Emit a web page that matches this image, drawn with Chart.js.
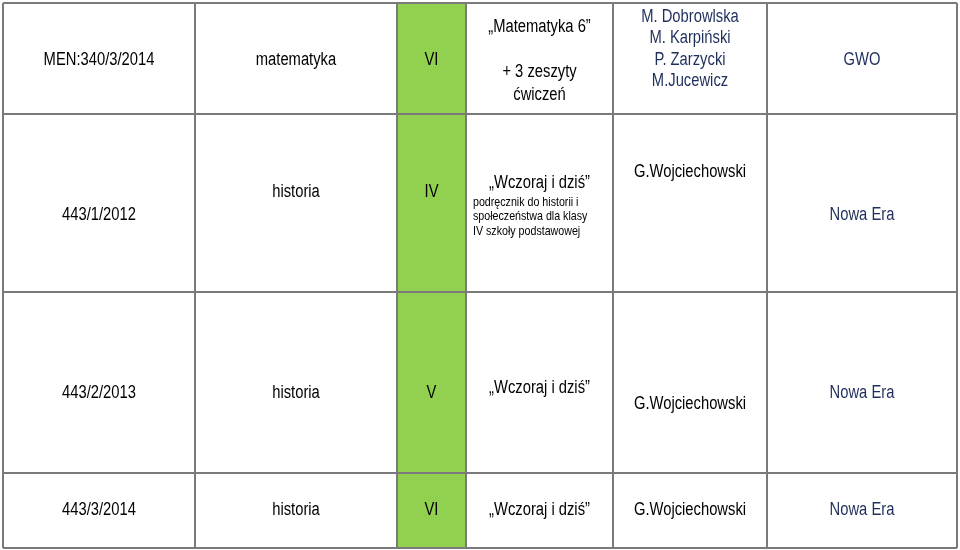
<!DOCTYPE html>
<html lang="en">
<head>
<meta charset="UTF-8">
<title>Podręczniki</title>
<script src="https://cdn.jsdelivr.net/npm/chart.js@4.4.2/dist/chart.umd.min.js"></script>
<style>
  body { margin: 0; background: #fff; }
  #wrap { width: 960px; height: 550px; }
</style>
</head>
<body>
<div id="wrap"><canvas id="tbl"></canvas></div>
<script>
// table structure (in scale units)
const colEdges = [3, 195, 397, 466, 613, 767, 957];
const rowEdges = [3, 114, 292, 473, 548];
const greenCol = 2;

// cell texts: [row, col, text, y, size, align, colour]
const NAVY = '#1f2f5c';
const cells = [
  [0, 0, 'MEN:340/3/2014', 60, 18, 'c', '#000'],
  [0, 1, 'matematyka', 60, 18, 'c', '#000'],
  [0, 2, 'VI', 60, 18, 'c', '#000'],
  [0, 3, '„Matematyka 6”', 27, 18, 'c', '#000'],
  [0, 3, '+ 3 zeszyty', 72, 18, 'c', '#000'],
  [0, 3, 'ćwiczeń', 95, 18, 'c', '#000'],
  [0, 4, 'M. Dobrowlska', 17, 18, 'c', NAVY],
  [0, 4, 'M. Karpiński', 38, 18, 'c', NAVY],
  [0, 4, 'P. Zarzycki', 60, 18, 'c', NAVY],
  [0, 4, 'M.Jucewicz', 81, 18, 'c', NAVY],
  [0, 5, 'GWO', 60, 18, 'c', NAVY],
  [1, 0, '443/1/2012', 215, 18, 'c', '#000'],
  [1, 1, 'historia', 192, 18, 'c', '#000'],
  [1, 2, 'IV', 192, 18, 'c', '#000'],
  [1, 3, '„Wczoraj i dziś”', 183, 18, 'c', '#000'],
  [1, 3, 'podręcznik do historii i', 202, 13, 'l', '#000'],
  [1, 3, 'społeczeństwa dla klasy', 216, 13, 'l', '#000'],
  [1, 3, 'IV szkoły podstawowej', 231, 13, 'l', '#000'],
  [1, 4, 'G.Wojciechowski', 172, 18, 'c', '#000'],
  [1, 5, 'Nowa Era', 215, 18, 'c', NAVY],
  [2, 0, '443/2/2013', 393, 18, 'c', '#000'],
  [2, 1, 'historia', 393, 18, 'c', '#000'],
  [2, 2, 'V', 393, 18, 'c', '#000'],
  [2, 3, '„Wczoraj i dziś”', 388, 18, 'c', '#000'],
  [2, 4, 'G.Wojciechowski', 404, 18, 'c', '#000'],
  [2, 5, 'Nowa Era', 393, 18, 'c', NAVY],
  [3, 0, '443/3/2014', 510, 18, 'c', '#000'],
  [3, 1, 'historia', 510, 18, 'c', '#000'],
  [3, 2, 'VI', 510, 18, 'c', '#000'],
  [3, 3, '„Wczoraj i dziś”', 510, 18, 'c', '#000'],
  [3, 4, 'G.Wojciechowski', 510, 18, 'c', '#000'],
  [3, 5, 'Nowa Era', 510, 18, 'c', NAVY]
];

const FONT = '"Liberation Sans Narrow", "Arial Narrow", "Liberation Sans", Arial, sans-serif';
const SQUEEZE = 0.82; // narrow the face, no condensed font installed

const tablePlugin = {
  id: 'tablePlugin',
  afterDraw(chart) {
    const ctx = chart.ctx, xs = chart.scales.x, ys = chart.scales.y;
    const X = v => xs.getPixelForValue(v), Y = v => ys.getPixelForValue(v);
    ctx.save();
    // green column
    ctx.fillStyle = '#92d050';
    ctx.fillRect(X(colEdges[greenCol]), Y(rowEdges[0]),
      X(colEdges[greenCol + 1]) - X(colEdges[greenCol]), Y(rowEdges[rowEdges.length - 1]) - Y(rowEdges[0]));
    // grid
    ctx.strokeStyle = '#7a7a7a';
    ctx.lineWidth = 2;
    colEdges.forEach(c => {
      ctx.beginPath(); ctx.moveTo(X(c), Y(rowEdges[0])); ctx.lineTo(X(c), Y(rowEdges[rowEdges.length - 1])); ctx.stroke();
    });
    rowEdges.forEach(r => {
      ctx.beginPath(); ctx.moveTo(X(colEdges[0]), Y(r)); ctx.lineTo(X(colEdges[colEdges.length - 1]), Y(r)); ctx.stroke();
    });
    // texts
    ctx.textBaseline = 'middle';
    cells.forEach(([r, c, t, y, size, align, col]) => {
      ctx.font = (size > 14 ? '500 ' : '') + size + 'px ' + FONT;
      ctx.fillStyle = col;
      let px;
      if (align === 'l') {
        ctx.textAlign = 'left';
        px = X(colEdges[c]) + 7;
      } else {
        ctx.textAlign = 'center';
        px = (X(colEdges[c]) + X(colEdges[c + 1])) / 2;
      }
      ctx.save();
      ctx.translate(px, Y(y));
      ctx.scale(SQUEEZE, 1);
      ctx.fillText(t, 0, 0);
      ctx.restore();
    });
    ctx.restore();
  }
};

new Chart(document.getElementById('tbl'), {
  type: 'scatter',
  data: { datasets: [{ data: [] }] },
  options: {
    responsive: true,
    maintainAspectRatio: false,
    animation: false,
    layout: { padding: 0 },
    plugins: { legend: { display: false }, tooltip: { enabled: false } },
    scales: {
      x: { type: 'linear', min: 0, max: 960, display: false },
      y: { type: 'linear', min: 0, max: 550, reverse: true, display: false }
    }
  },
  plugins: [tablePlugin]
});
</script>
</body>
</html>
